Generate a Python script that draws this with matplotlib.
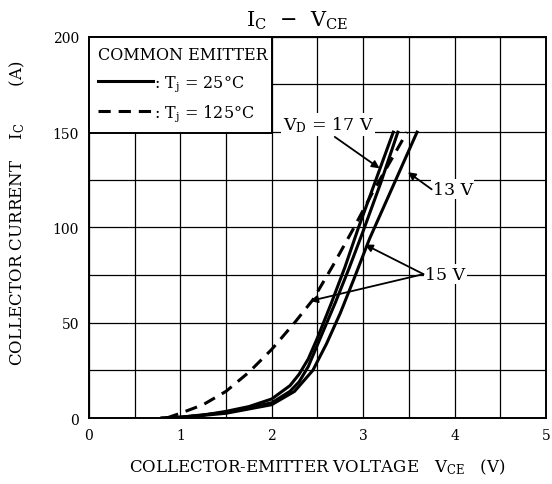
import matplotlib
matplotlib.use("Agg")
import matplotlib.pyplot as plt
from matplotlib.lines import Line2D

plt.rcParams['font.family'] = ['DejaVu Serif']
plt.rcParams['mathtext.fontset'] = 'dejavuserif'

# Courbes IC - VCE
vce_17v = [0.8, 1.0, 1.25, 1.5, 1.75, 2.0, 2.2, 2.3, 2.4, 2.5, 2.65, 2.8, 2.95, 3.14, 3.33]
ic_17v = [0, 0.5, 1.5, 3.5, 6, 10, 17, 23, 31, 42, 60, 79, 100, 125, 150]

vce_15v = [0.8, 1.0, 1.5, 2.0, 2.2, 2.3, 2.4, 2.55, 2.7, 2.85, 3.0, 3.19, 3.38]
ic_15v = [0, 0.4, 3, 8, 14, 19, 27, 44, 61, 79, 98, 123, 150]

vce_13v = [0.85, 1.0, 1.5, 2.0, 2.25, 2.45, 2.6, 2.75, 2.9, 3.07, 3.33, 3.59]
ic_13v = [0, 0.3, 2.5, 7, 14, 25, 39, 55, 73, 94, 122, 150]

vce_125 = [0.85, 1.0, 1.25, 1.5, 1.75, 2.0, 2.25, 2.45, 2.67, 2.89, 3.1, 3.48]
ic_125 = [0, 2.5, 7, 14, 24, 36, 50, 62, 80, 99, 118, 150]

fig = plt.figure(figsize=(5.52, 4.85), dpi=100)
ax = fig.add_axes([0.161, 0.136, 0.828, 0.786])

ax.set_xlim(0, 5)
ax.set_ylim(0, 200)
ax.set_xticks([0, 1, 2, 3, 4, 5])
ax.set_yticks([0, 50, 100, 150, 200])
ax.set_xticks([0.5 * i for i in range(11)], minor=True)
ax.set_yticks([25 * i for i in range(9)], minor=True)
ax.grid(True, which='both', color='black', linewidth=0.9)
ax.tick_params(which='both', length=0, labelsize=10)
ax.tick_params(axis='x', pad=7)
ax.tick_params(axis='y', pad=7)
for s in ax.spines.values():
    s.set_linewidth(1.4)

ax.plot(vce_17v, ic_17v, color='black', lw=2.2)
ax.plot(vce_15v, ic_15v, color='black', lw=2.2)
ax.plot(vce_13v, ic_13v, color='black', lw=2.2)
ax.plot(vce_125, ic_125, color='black', lw=2.2, dashes=(4, 2.6))

# Légende
leg = ax.legend([Line2D([], [], color='black', lw=2.2),
                 Line2D([], [], color='black', lw=2.2, dashes=(4, 2.6))],
                [r': T$_\mathregular{j}$ = 25°C', r': T$_\mathregular{j}$ = 125°C'],
                title='COMMON EMITTER', loc='upper left',
                bbox_to_anchor=(0, 0, 0.4, 1), mode='expand',
                borderaxespad=0, fancybox=False, framealpha=1,
                edgecolor='black', fontsize=11.5, title_fontsize=11.5,
                handlelength=3.4, handletextpad=0.1, labelspacing=0.6,
                borderpad=0.6, alignment='left')
leg.get_frame().set_linewidth(1.4)
leg.set_zorder(5)

# Annotations
arrow = dict(arrowstyle='-|>', color='black', lw=1.3, mutation_scale=11,
             shrinkA=0, shrinkB=0)
ax.text(2.62, 154, r'V$_\mathregular{D}$ = 17 V', fontsize=12.5, ha='center',
        va='center', bbox=dict(facecolor='white', edgecolor='none', pad=1))
ax.annotate('', xy=(3.18, 131), xytext=(2.69, 147.5), arrowprops=arrow)

ax.text(3.76, 120, '13 V', fontsize=12.5, ha='left', va='center',
        bbox=dict(facecolor='white', edgecolor='none', pad=1))
ax.annotate('', xy=(3.49, 129), xytext=(3.75, 120), arrowprops=arrow)

ax.text(3.68, 75.5, '15 V', fontsize=12.5, ha='left', va='center',
        bbox=dict(facecolor='white', edgecolor='none', pad=1))
ax.annotate('', xy=(3.02, 91), xytext=(3.66, 75.5), arrowprops=arrow)
ax.annotate('', xy=(2.42, 61.4), xytext=(3.66, 75.5), arrowprops=arrow)

ax.set_title(r'I$_\mathregular{C}$  $-$  V$_\mathregular{CE}$', fontsize=15,
             x=0.455, pad=8)
ax.set_xlabel(r'COLLECTOR-EMITTER VOLTAGE   V$_\mathregular{CE}$   (V)',
              fontsize=12)
ax.set_ylabel(r'COLLECTOR CURRENT    I$_\mathregular{C}$       (A)', fontsize=12)
ax.xaxis.set_label_coords(0.5, -0.1)
ax.yaxis.set_label_coords(-0.135, 0.54)

fig.savefig('out.png', dpi=100)
